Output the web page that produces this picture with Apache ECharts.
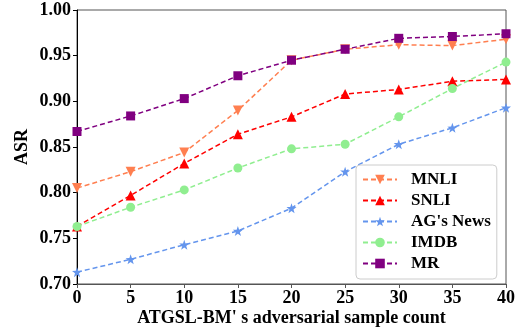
<!DOCTYPE html>
<html>
<head>
<meta charset="utf-8">
<script src="https://cdn.jsdelivr.net/npm/echarts@6/dist/echarts.min.js"></script>
<style>
  html, body { margin: 0; padding: 0; background: #fff; }
  #chart { width: 521px; height: 327px; }
</style>
</head>
<body>
<div id="chart"></div>
<script>
const counts = [0, 5, 10, 15, 20, 25, 30, 35, 40]
const mnli = [0.805, 0.823, 0.844, 0.890, 0.945, 0.957, 0.962, 0.961, 0.968]
const snli = [0.763, 0.797, 0.832, 0.864, 0.883, 0.908, 0.913, 0.922, 0.924]
const agNews = [0.713, 0.727, 0.743, 0.758, 0.783, 0.823, 0.853, 0.871, 0.893]
const imdb = [0.763, 0.784, 0.803, 0.827, 0.848, 0.853, 0.883, 0.914, 0.943]
const mr = [0.867, 0.884, 0.903, 0.928, 0.945, 0.957, 0.969, 0.971, 0.974]

const font = 'Liberation Serif, Times New Roman, serif'
const star = 'path://M0,-10L2.35,-3.24L9.51,-3.09L3.8,1.24L5.88,8.09L0,4L-5.88,8.09L-3.8,1.24L-9.51,-3.09L-2.35,-3.24Z'
const downTri = 'path://M-5,-4L5,-4L0,5Z'

function line(name, data, color, symbol, size) {
  return {
    name,
    type: 'line',
    data: counts.map((c, i) => [c, data[i]]),
    symbol,
    symbolSize: size,
    lineStyle: { color, width: 1.5, type: [5, 3] },
    itemStyle: { color },
    z: 2,
  }
}

const chart = echarts.init(document.getElementById('chart'))
chart.setOption({
  animation: false,
  textStyle: { fontFamily: font },
  grid: {
    left: 77, right: 15, top: 10, bottom: 43,
    outerBoundsMode: 'none',
    containLabel: false,
    show: true, borderColor: '#555', borderWidth: 1,
  },
  legend: {
    orient: 'vertical',
    left: 356, top: 165,
    padding: [6, 6, 7, 6],
    itemGap: 4,
    itemWidth: 34,
    itemHeight: 12,
    borderColor: '#ccc',
    borderWidth: 1,
    borderRadius: 4,
    backgroundColor: 'rgba(255,255,255,0.8)',
    textStyle: { fontFamily: font, fontWeight: 'bold', fontSize: 17, color: '#000', padding: [0, 0, 0, 9] },
    data: ['MNLI', 'SNLI', "AG's News", 'IMDB', 'MR'],
  },
  xAxis: {
    type: 'value',
    min: 0, max: 40, interval: 5,
    name: "ATGSL-BM' s adversarial sample count",
    nameLocation: 'middle',
    nameGap: 25,
    nameMoveOverlap: false,
    nameTextStyle: { fontFamily: font, fontWeight: 'bold', fontSize: 18, color: '#000' },
    axisLine: { lineStyle: { color: '#555', width: 1 } },
    axisTick: { show: true, length: 4, lineStyle: { color: '#555' } },
    axisLabel: { fontFamily: font, fontWeight: 'bold', fontSize: 18, color: '#000', margin: 5 },
    splitLine: { show: false },
  },
  yAxis: {
    type: 'value',
    min: 0.70, max: 1.00, interval: 0.05,
    name: 'ASR',
    nameLocation: 'middle',
    nameGap: 46,
    nameMoveOverlap: false,
    nameTextStyle: { fontFamily: font, fontWeight: 'bold', fontSize: 18, color: '#000' },
    axisLine: { show: true, lineStyle: { color: '#000', width: 1 } },
    axisTick: { show: true, length: 4, lineStyle: { color: '#000' } },
    axisLabel: {
      fontFamily: font, fontWeight: 'bold', fontSize: 18, color: '#000', margin: 6,
      formatter: v => v.toFixed(2),
    },
    splitLine: { show: false },
  },
  series: [
    line('MNLI', mnli, '#FF7F50', downTri, 10),
    line('SNLI', snli, '#FF0000', 'triangle', 10),
    line("AG's News", agNews, '#6495ED', star, 10),
    line('IMDB', imdb, '#90EE90', 'circle', 9),
    line('MR', mr, '#800080', 'rect', 9),
  ],
})
</script>
</body>
</html>
